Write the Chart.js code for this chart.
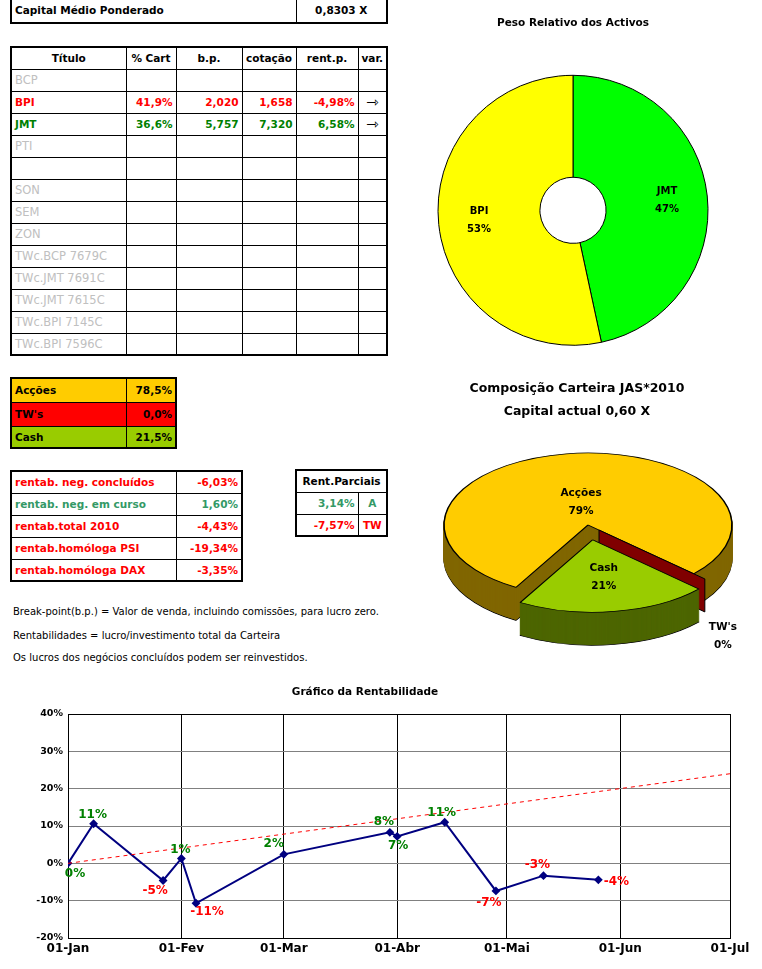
<!DOCTYPE html>
<html>
<head>
<meta charset="utf-8">
<script src="https://cdn.jsdelivr.net/npm/chart.js@4"></script>
<style>
  body { margin: 0; width: 762px; height: 969px; position: relative; background: #fff; overflow: hidden;
         font-family: "Comic Sans MS", "DejaVu Sans", sans-serif; }
  table { position: absolute; border-collapse: collapse; table-layout: fixed; border: 2px solid #000; font-weight: bold; font-size: 10.5px; }
  td { border: 1px solid #000; padding: 0 3px; white-space: nowrap; overflow: hidden; height: 22px; box-sizing: border-box; }
  td.r { text-align: right; }
  td.c { text-align: center; }
  td.arrow { text-align: center; font-weight: normal; font-size: 15px; line-height: 10px; }
  .off { color: #c0c0c0; font-weight: normal; font-size: 11.5px; }
  .note { position: absolute; left: 13px; font-size: 10px; white-space: nowrap; }
  .ttl { position: absolute; font-weight: bold; white-space: nowrap; text-align: center; z-index: 2; }
  canvas { position: absolute; }
</style>
</head>
<body>

<table id="capital" style="left:10px; top:-3px; width:376px; border-top:none;">
  <colgroup><col style="width:285px"><col style="width:91px"></colgroup>
</table>
<table id="carteira" style="left:10px; top:46px; width:376px;">
  <colgroup><col style="width:115px"><col style="width:50px"><col style="width:66px"><col style="width:54px"><col style="width:62px"><col style="width:29px"></colgroup>
</table>
<table id="alocacao" style="left:10px; top:377px; width:165px;">
  <colgroup><col style="width:115px"><col style="width:50px"></colgroup>
</table>
<table id="rentab" style="left:10px; top:470px; width:231px;">
  <colgroup><col style="width:165px"><col style="width:66px"></colgroup>
</table>
<table id="parciais" style="left:295px; top:469px; width:91px;">
  <colgroup><col style="width:62px"><col style="width:29px"></colgroup>
</table>

<div class="note" style="top:606px">Break-point(b.p.) = Valor de venda, incluindo comissões, para lucro zero.</div>
<div class="note" style="top:630px">Rentabilidades = lucro/investimento total da Carteira</div>
<div class="note" style="top:652px">Os lucros dos negócios concluídos podem ser reinvestidos.</div>

<div class="ttl" style="left:420px; width:314px; top:380px; font-size:12.5px">Composição Carteira JAS*2010</div>
<div class="ttl" style="left:420px; width:314px; top:403px; font-size:12.5px">Capital actual 0,60 X</div>

<canvas id="peso" width="346" height="374" style="left:400px; top:0px"></canvas>
<canvas id="composicao" width="420" height="420" style="left:378px; top:315px"></canvas>
<canvas id="grafico" width="762" height="289" style="left:0px; top:680px"></canvas>

<script>
// Table data
const capitalMedio = "0,8303 X";
const cabecalho = ["Título", "% Cart", "b.p.", "cotação", "rent.p.", "var."];
const titulos = ["BCP", "BPI", "JMT", "PTI", "", "SON", "SEM", "ZON",
  "TWc.BCP 7679C", "TWc.JMT 7691C", "TWc.JMT 7615C", "TWc.BPI 7145C", "TWc.BPI 7596C"];
const pctCart = [null, 41.9, 36.6, null, null, null, null, null, null, null, null, null, null];
const breakPoint = [null, 2.020, 5.757, null, null, null, null, null, null, null, null, null, null];
const cotacao = [null, 1.658, 7.320, null, null, null, null, null, null, null, null, null, null];
const rentP = [null, -4.98, 6.58, null, null, null, null, null, null, null, null, null, null];

const alocLabels = ["Acções", "TW's", "Cash"];
const alocPct = [78.53, 0.0, 21.47];

const rentLabels = ["rentab. neg. concluídos", "rentab. neg. em curso", "rentab.total 2010",
  "rentab.homóloga PSI", "rentab.homóloga DAX"];
const rentVals = [-6.03, 1.60, -4.43, -19.34, -3.35];
const parcVals = [3.14, -7.57];
const parcTags = ["A", "TW"];

// Doughnut data (Peso Relativo dos Activos)
const pesoLabels = ["JMT", "BPI"];
const pesoValues = [36.6, 41.9];

// Line chart data (Gráfico da Rentabilidade), x = day of year
const pontoDias = [0, 7, 26, 31, 35, 59, 88, 90, 103, 117, 130, 145];
const pontoRent = [0, 10.6, -4.6, 1.3, -10.7, 2.4, 8.3, 7.2, 11.0, -7.4, -3.3, -4.43];
const metaDias = [0, 181];
const metaRent = [0, 24];
const mesDias = [0, 31, 59, 90, 120, 151, 181];
const mesLabels = ["01-Jan", "01-Fev", "01-Mar", "01-Abr", "01-Mai", "01-Jun", "01-Jul"];

const FONT = '"Comic Sans MS", "DejaVu Sans", sans-serif';
const RED = "#ff0000", GREEN = "#008000", TEAL = "#339966";
const fmt = (v, d) => v.toFixed(d).replace(".", ",");

// Build tables
function row(table, cells) {
  const tr = document.createElement("tr");
  cells.forEach(c => {
    const td = document.createElement("td");
    td.textContent = c.t;
    if (c.cls) td.className = c.cls;
    if (c.color) td.style.color = c.color;
    if (c.bg) td.style.background = c.bg;
    if (c.span) td.colSpan = c.span;
    tr.appendChild(td);
  });
  table.appendChild(tr);
  return tr;
}

const capTab = document.getElementById("capital");
row(capTab, [{ t: "Capital Médio Ponderado" }, { t: capitalMedio, cls: "c" }]).style.height = "25px";

const cart = document.getElementById("carteira");
row(cart, cabecalho.map(h => ({ t: h, cls: "c" })));
titulos.forEach((t, i) => {
  if (pctCart[i] === null) {
    row(cart, [{ t: t, cls: "off" }, { t: "" }, { t: "" }, { t: "" }, { t: "" }, { t: "" }]);
  } else {
    const col = rentP[i] < 0 ? RED : GREEN;
    row(cart, [
      { t: t, color: col },
      { t: fmt(pctCart[i], 1) + "%", cls: "r", color: col },
      { t: fmt(breakPoint[i], 3), cls: "r", color: col },
      { t: fmt(cotacao[i], 3), cls: "r", color: col },
      { t: fmt(rentP[i], 2) + "%", cls: "r", color: col },
      { t: "⇾", cls: "arrow" }
    ]);
  }
});

const alocBg = ["#ffcc00", "#ff0000", "#99cc00"];
const aloc = document.getElementById("alocacao");
alocLabels.forEach((l, i) => {
  const tr = row(aloc, [{ t: l, bg: alocBg[i] }, { t: fmt(alocPct[i], 1) + "%", cls: "r", bg: alocBg[i] }]);
  tr.style.height = i < 2 ? "24px" : "22px";
});

const rent = document.getElementById("rentab");
rentLabels.forEach((l, i) => {
  const col = rentVals[i] < 0 ? RED : TEAL;
  row(rent, [{ t: l, color: col }, { t: fmt(rentVals[i], 2) + "%", cls: "r", color: col }]);
});

const parc = document.getElementById("parciais");
row(parc, [{ t: "Rent.Parciais", cls: "c", span: 2 }]);
parcVals.forEach((v, i) => {
  const col = v < 0 ? RED : TEAL;
  row(parc, [{ t: fmt(v, 2) + "%", cls: "r", color: col }, { t: parcTags[i], cls: "c", color: col }]);
});

Chart.defaults.font.family = FONT;
Chart.defaults.color = "#000";
Chart.defaults.animation = false;
Chart.defaults.plugins.legend.display = false;
Chart.defaults.plugins.tooltip.enabled = false;

// Doughnut: Peso Relativo dos Activos
const pesoLabelPlugin = {
  id: "pesoLabels",
  afterDatasetsDraw(chart) {
    const ctx = chart.ctx;
    const arcs = chart.getDatasetMeta(0).data;
    const total = pesoValues.reduce((a, b) => a + b, 0);
    ctx.save();
    ctx.font = "bold 10px " + FONT;
    ctx.fillStyle = "#000";
    ctx.textAlign = "center";
    ctx.textBaseline = "middle";
    arcs.forEach((arc, i) => {
      const a = (arc.startAngle + arc.endAngle) / 2;
      const r = arc.outerRadius * 0.7;
      const x = arc.x + Math.cos(a) * r, y = arc.y + Math.sin(a) * r;
      ctx.fillText(pesoLabels[i], x, y - 9);
      ctx.fillText(Math.round(pesoValues[i] / total * 100) + "%", x, y + 9);
    });
    ctx.restore();
  }
};

new Chart(document.getElementById("peso"), {
  type: "doughnut",
  data: {
    labels: pesoLabels,
    datasets: [{
      data: pesoValues,
      backgroundColor: ["#00ff00", "#ffff00"],
      borderColor: "#000",
      borderWidth: 1
    }]
  },
  options: {
    responsive: false,
    radius: 135,
    cutout: "24.5%",
    plugins: {
      title: {
        display: true,
        text: "Peso Relativo dos Activos",
        font: { size: 10.5, weight: "bold" },
        padding: { top: 17, bottom: 17 }
      }
    }
  },
  plugins: [pesoLabelPlugin]
});

// 3D-looking pie: Composição Carteira
const tilt = 0.5, depth = 33;
const sideColors = ["#806600", "#800000", "#4d6600"];
const labelRadius = [0.32, 1, 0.52];
const pie3d = {
  id: "pie3d",
  beforeDatasetsDraw(chart) {
    const ctx = chart.ctx;
    const arcs = chart.getDatasetMeta(0).data;
    const cx = arcs[0].x, cy = arcs[0].y;
    const squash = () => { ctx.translate(cx, cy); ctx.scale(1, tilt); ctx.translate(-cx, -cy); };
    arcs.forEach((arc, i) => {
      if (arc.circumference === 0) {
        // zero slice: only its radial wall is visible
        const a = arc.startAngle, off = (arc.options.offset || 0) / 4;
        const x0 = arc.x + Math.cos(a) * off, y0 = arc.y + Math.sin(a) * off;
        const x1 = x0 + Math.cos(a) * arc.outerRadius, y1 = y0 + Math.sin(a) * arc.outerRadius;
        const sy = y => cy + (y - cy) * tilt;
        ctx.save();
        ctx.beginPath();
        ctx.moveTo(x0, sy(y0));
        ctx.lineTo(x1, sy(y1));
        ctx.lineTo(x1, sy(y1) + depth);
        ctx.lineTo(x0, sy(y0) + depth);
        ctx.closePath();
        ctx.fillStyle = sideColors[i];
        ctx.fill();
        ctx.strokeStyle = "#000";
        ctx.lineWidth = 1;
        ctx.stroke();
        ctx.restore();
        return;
      }
      for (let k = depth; k >= 1; k--) {
        const ghost = Object.assign(Object.create(Object.getPrototypeOf(arc)), arc);
        ghost.options = Object.assign({}, arc.options, {
          backgroundColor: sideColors[i],
          borderColor: k === depth ? "#000" : sideColors[i]
        });
        ctx.save();
        ctx.translate(0, k);
        squash();
        ghost.draw(ctx);
        ctx.restore();
      }
      ctx.save();
      squash();
      arc.draw(ctx);
      ctx.restore();
    });
    return false;
  },
  afterDraw(chart) {
    const ctx = chart.ctx;
    const arcs = chart.getDatasetMeta(0).data;
    const cy = arcs[0].y;
    ctx.save();
    ctx.font = "bold 10.5px " + FONT;
    ctx.fillStyle = "#000";
    ctx.textAlign = "center";
    ctx.textBaseline = "middle";
    arcs.forEach((arc, i) => {
      const a = (arc.startAngle + arc.endAngle) / 2;
      const off = (arc.options.offset || 0) / 4;
      const r = off + arc.outerRadius * labelRadius[i];
      let x = arc.x + Math.cos(a) * r;
      let y = cy + Math.sin(a) * r * tilt;
      if (arc.circumference === 0) {
        x += 18;
        y += depth + 24;
      }
      ctx.fillText(alocLabels[i], x, y - 9);
      ctx.fillText(Math.round(alocPct[i]) + "%", x, y + 9);
    });
    ctx.restore();
  }
};

new Chart(document.getElementById("composicao"), {
  type: "pie",
  data: {
    labels: alocLabels,
    datasets: [{
      data: alocPct,
      backgroundColor: ["#ffcc00", "#ff0000", "#99cc00"],
      borderColor: "#000",
      borderWidth: 1.5,
      offset: [0, 60, 120]
    }]
  },
  options: {
    responsive: false,
    radius: 144,
    rotation: 210
  },
  plugins: [pie3d]
});

// Line chart: Gráfico da Rentabilidade
const labelOffsets = [[7, 11], [-1, -9], [-8, 10], [-1, -9], [11, 9], [-10, -10],
  [-6, -10], [1, 9], [-3, -9], [-7, 12], [-6, -11], [18, 2]];
const pontoLabels = {
  id: "pontoLabels",
  afterDatasetsDraw(chart) {
    const ctx = chart.ctx;
    const pts = chart.getDatasetMeta(1).data;
    ctx.save();
    ctx.font = "bold 12px " + FONT;
    ctx.textAlign = "center";
    ctx.textBaseline = "middle";
    pts.forEach((p, i) => {
      const v = pontoRent[i];
      ctx.fillStyle = v < 0 ? RED : GREEN;
      ctx.fillText(Math.round(v) + "%", p.x + labelOffsets[i][0], p.y + labelOffsets[i][1]);
    });
    ctx.restore();
  }
};
const moldura = {
  id: "moldura",
  beforeDatasetsDraw(chart) {
    const { ctx, chartArea: a } = chart;
    ctx.save();
    ctx.strokeStyle = "#000";
    ctx.lineWidth = 1;
    ctx.strokeRect(a.left + 0.5, a.top + 0.5, a.right - a.left, a.bottom - a.top);
    ctx.restore();
  }
};

new Chart(document.getElementById("grafico"), {
  type: "line",
  data: {
    datasets: [
      {
        data: metaDias.map((d, i) => ({ x: d, y: metaRent[i] })),
        borderColor: RED,
        borderWidth: 1,
        borderDash: [4, 4],
        pointRadius: 0
      },
      {
        data: pontoDias.map((d, i) => ({ x: d, y: pontoRent[i] })),
        borderColor: "#000080",
        borderWidth: 2,
        pointStyle: "rectRot",
        pointRadius: 3,
        pointBackgroundColor: "#000080",
        pointBorderColor: "#000080",
        tension: 0
      }
    ]
  },
  options: {
    responsive: false,
    layout: { padding: { left: 0, right: 32, top: 0, bottom: 0 } },
    plugins: {
      title: {
        display: true,
        text: "Gráfico da Rentabilidade",
        font: { size: 10.5, weight: "bold" },
        padding: { top: 6, bottom: 15.4 }
      }
    },
    scales: {
      x: {
        type: "linear",
        min: 0,
        max: 181,
        afterBuildTicks: axis => { axis.ticks = mesDias.map(v => ({ value: v })); },
        afterFit: scale => { scale.height = 31; },
        ticks: {
          autoSkip: false,
          maxRotation: 0,
          padding: 4,
          font: { size: 12, weight: "bold" },
          callback: (v, i) => mesLabels[i]
        },
        grid: { color: "#000", drawTicks: false },
        border: { color: "#000" }
      },
      y: {
        min: -20,
        max: 40,
        afterFit: scale => { scale.width = 68; },
        ticks: {
          stepSize: 10,
          padding: 5,
          font: { size: 9.5, weight: "bold" },
          callback: v => v + "%"
        },
        grid: { color: "#808080", drawTicks: false },
        border: { color: "#000" }
      }
    }
  },
  plugins: [moldura, pontoLabels]
});
</script>
</body>
</html>
